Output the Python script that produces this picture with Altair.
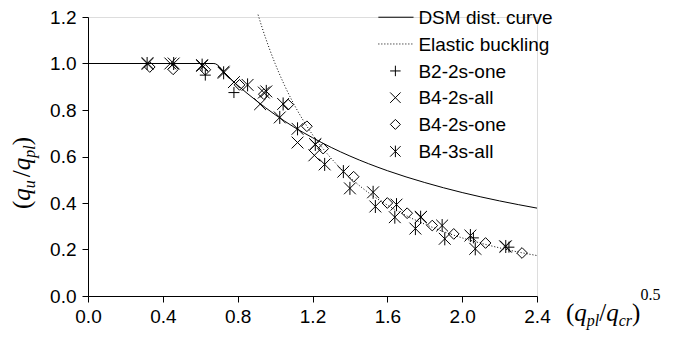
import altair as alt
import pandas as pd

# ---- curves ----
dsm_x = [0.0, 0.673, 0.75, 0.8, 0.9, 1.0, 1.1, 1.2, 1.3, 1.4, 1.6, 1.8, 2.0, 2.2, 2.4]
dsm_y = [1.0, 1.0, 0.942, 0.906, 0.840, 0.780, 0.727, 0.681, 0.639, 0.602, 0.539, 0.488, 0.445, 0.409, 0.378]

eb_x = [0.909, 0.93, 0.95, 0.97, 1.0, 1.05, 1.1, 1.15, 1.2, 1.25, 1.3, 1.4, 1.5, 1.6,
        1.7, 1.8, 1.9, 2.0, 2.1, 2.2, 2.3, 2.4]
eb_y = [1.21, 1.156, 1.108, 1.063, 1.0, 0.907, 0.826, 0.756, 0.694, 0.640, 0.592, 0.510,
        0.444, 0.391, 0.346, 0.309, 0.277, 0.25, 0.227, 0.207, 0.189, 0.174]

# ---- test series ----
b2_2s_one_x = [0.627, 0.78, 2.06, 2.25]
b2_2s_one_y = [0.950, 0.875, 0.250, 0.210]

b4_2s_all_x = [0.32, 0.44, 0.61, 0.725, 0.78, 0.92, 0.94, 1.12, 1.21, 1.215, 1.78, 2.23]
b4_2s_all_y = [1.0, 1.0, 0.99, 0.965, 0.92, 0.825, 0.875, 0.66, 0.605, 0.652, 0.34, 0.213]

b4_2s_one_x = [0.33, 0.455, 0.627, 0.81, 0.94, 1.07, 1.17, 1.257, 1.42, 1.60, 1.706,
               1.84, 1.955, 2.125, 2.32]
b4_2s_one_y = [0.985, 0.975, 0.973, 0.908, 0.868, 0.823, 0.73, 0.634, 0.513, 0.40, 0.356,
               0.303, 0.267, 0.228, 0.185]

b4_3s_all_x = [0.316, 0.458, 0.61, 0.725, 0.853, 0.953, 1.043, 1.025, 1.12, 1.215, 1.265,
               1.365, 1.40, 1.524, 1.536, 1.649, 1.64, 1.75, 1.778, 1.893, 1.907, 2.044,
               2.07, 2.233]
b4_3s_all_y = [1.0, 1.0, 0.993, 0.96, 0.908, 0.88, 0.826, 0.768, 0.719, 0.652, 0.566,
               0.535, 0.463, 0.446, 0.385, 0.393, 0.339, 0.29, 0.339, 0.303, 0.246, 0.26,
               0.203, 0.213]

legend_labels = ["DSM dist. curve", "Elastic buckling", "B2-2s-one", "B4-2s-all",
                 "B4-2s-one", "B4-3s-all"]

x_ticks = [0.0, 0.4, 0.8, 1.2, 1.6, 2.0, 2.4]
y_ticks = [0.0, 0.2, 0.4, 0.6, 0.8, 1.0, 1.2]

PLUS = "M-1,0L1,0M0,-1L0,1"
XMK = "M-1,-1L1,1M-1,1L1,-1"
DIA = "M0,-1L1,0L0,1L-1,0Z"
STAR = "M-1,-1L1,1M-1,1L1,-1M0,-1.1L0,1.1"

SANS = "Liberation Sans"
SERIF = "Liberation Serif"
TFS = 19   # tick labels
LFS = 19   # legend

xs = alt.Scale(domain=[0, 2.4], nice=False, zero=False)
ys = alt.Scale(domain=[0, 1.2], nice=False, zero=False)
xax = alt.Axis(values=x_ticks, format=".1f", title=None, grid=False, tickSize=6,
               labelFont=SANS, labelFontSize=TFS, labelColor="black", labelPadding=5,
               domainColor="black", tickColor="black", labelFlush=False)
yax = alt.Axis(values=y_ticks, format=".1f", title=None, grid=False, tickSize=6,
               labelFont=SANS, labelFontSize=TFS, labelColor="black", labelPadding=6,
               domainColor="black", tickColor="black")

dsm_df = pd.DataFrame({"x": dsm_x, "y": dsm_y})
eb_df = pd.DataFrame({"x": eb_x, "y": eb_y})

dsm = alt.Chart(dsm_df).mark_line(color="black", strokeWidth=1, interpolate="monotone").encode(
    x=alt.X("x:Q", scale=xs, axis=xax), y=alt.Y("y:Q", scale=ys, axis=yax))
eb = alt.Chart(eb_df).mark_line(color="black", strokeWidth=1, strokeDash=[1, 2],
                                interpolate="monotone").encode(
    x=alt.X("x:Q", scale=xs), y=alt.Y("y:Q", scale=ys))


def pts(xv, yv, shape, size):
    df = pd.DataFrame({"x": xv, "y": yv})
    return alt.Chart(df).mark_point(shape=shape, filled=False, stroke="black",
                                    strokeWidth=1, size=size, opacity=1).encode(
        x=alt.X("x:Q", scale=xs), y=alt.Y("y:Q", scale=ys))


p1 = pts(b2_2s_one_x, b2_2s_one_y, PLUS, 120)
p2 = pts(b4_2s_all_x, b4_2s_all_y, XMK, 140)
p3 = pts(b4_2s_one_x, b4_2s_one_y, DIA, 115)
p4 = pts(b4_3s_all_x, b4_3s_all_y, STAR, 140)

# ---- legend (in data coordinates) ----
leg_base = [1.170, 1.055, 0.939, 0.824, 0.709, 0.594]   # text baselines
leg_mid = [1.199, 1.084, 0.968, 0.853, 0.738, 0.622]    # symbol centres
leg_df = pd.DataFrame({"label": legend_labels, "x": [1.766] * 6, "y": leg_base})
leg_text = alt.Chart(leg_df).mark_text(align="left", baseline="alphabetic", font=SANS,
                                       fontSize=LFS, color="black").encode(
    x=alt.X("x:Q", scale=xs), y=alt.Y("y:Q", scale=ys), text="label:N")

leg_line1 = alt.Chart(pd.DataFrame({"a": [1.552], "b": [1.74], "y": [leg_mid[0]]})).mark_rule(
    color="black", strokeWidth=1).encode(x=alt.X("a:Q", scale=xs), x2="b:Q", y=alt.Y("y:Q", scale=ys))
leg_line2 = alt.Chart(pd.DataFrame({"a": [1.552], "b": [1.74], "y": [leg_mid[1]]})).mark_rule(
    color="black", strokeWidth=1, strokeDash=[1, 2]).encode(
    x=alt.X("a:Q", scale=xs), x2="b:Q", y=alt.Y("y:Q", scale=ys))

leg_syms = [pts([1.643], [leg_mid[2]], PLUS, 110),
            pts([1.643], [leg_mid[3]], XMK, 110),
            pts([1.643], [leg_mid[4]], DIA, 100),
            pts([1.643], [leg_mid[5]], STAR, 110)]


# ---- axis titles with sub/superscripts ----
def txt(s, x, y, size, italic=True, angle=0):
    kw = dict(align="left", baseline="alphabetic", font=SERIF, fontSize=size, color="black")
    if italic:
        kw["fontStyle"] = "italic"
    if angle:
        kw["angle"] = angle
    return alt.Chart(pd.DataFrame({"t": [s]})).mark_text(**kw).encode(
        x=alt.value(x), y=alt.value(y), text="t:N")


BIG = 25
SMALL = 16
xt = [
    txt("(", 478, 304, BIG, italic=False),
    txt("q", 486.3, 304, BIG),
    txt("pl", 498.8, 309, SMALL),
    txt("/", 511.2, 304, BIG, italic=False),
    txt("q", 518.2, 304, BIG),
    txt("cr", 530.7, 309, SMALL),
    txt(")", 544, 304, BIG, italic=False),
    txt("0.5", 552.5, 283, SMALL, italic=False),
]
yt = [
    txt("(", -57.7, 192, BIG, italic=False, angle=270),
    txt("q", -57.7, 183.7, BIG, angle=270),
    txt("u", -53, 171.2, SMALL, angle=270),
    txt("/", -57.7, 160.2, BIG, italic=False, angle=270),
    txt("q", -57.7, 153.2, BIG, angle=270),
    txt("pl", -53, 140.7, SMALL, angle=270),
    txt(")", -57.7, 128.3, BIG, italic=False, angle=270),
]

chart = alt.layer(dsm, eb, p1, p2, p3, p4, leg_text, leg_line1, leg_line2, *leg_syms, *xt, *yt).properties(
    width=449, height=279,
    autosize=alt.AutoSizeParams(type="none"),
    padding={"left": 80, "top": 9, "right": 129, "bottom": 37},
).configure_view(stroke=None).configure(background="white")

chart.save("out.html", embed_options={"renderer": "svg", "actions": False})
